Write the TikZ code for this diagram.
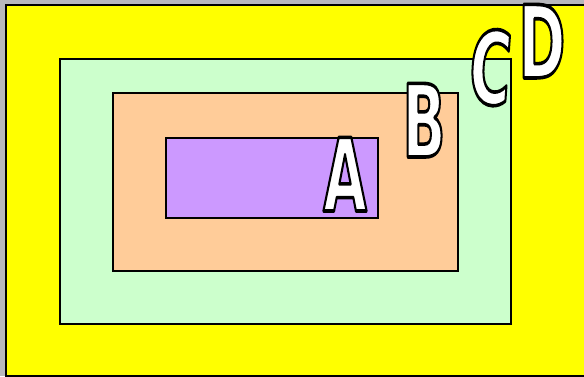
\documentclass[tikz,border=0pt]{standalone}
\usepackage{fontspec}
\setmainfont{Liberation Sans}
\newfontfamily\heavyfont{DejaVu Sans}
\definecolor{bggray}{RGB}{184,184,188}
\definecolor{pyellow}{RGB}{255,255,0}
\definecolor{pgreen}{RGB}{204,255,204}
\definecolor{porange}{RGB}{255,204,153}
\definecolor{ppurple}{RGB}{204,153,255}
\newcommand\letterbox[1]{{\color{white}\special{pdf:literal direct 2 Tr 3.6 w 1 j 0 G}\scalebox{0.56}[1]{#1}\special{pdf:literal direct 0 Tr 1 w 0 j}}}
\begin{document}
\begin{tikzpicture}[x=1pt,y=-1pt,
  box/.style={draw=black,line width=2pt,inner sep=0pt,anchor=north west},
  letter/.style={inner sep=0pt,anchor=base,font=\heavyfont\bfseries\fontsize{101}{101}\selectfont}]
\useasboundingbox (0,0) rectangle (584,376);
\fill[bggray] (0,0) rectangle (584,376);
\node[box,fill=pyellow,minimum width=600pt,minimum height=371pt] (d) at (5,4) {};
\node[box,fill=pgreen,minimum width=451pt,minimum height=265pt] (c) at (59,58) {};
\node[box,fill=porange,minimum width=345pt,minimum height=178pt] (b) at (112,92) {};
\node[box,fill=ppurple,minimum width=212pt,minimum height=80pt] (a) at (165,137) {};
\node[letter] (la) at (345,211) {\letterbox{A}};
\node[letter] (lb) at (424,157) {\letterbox{B}};
\node[letter,rotate=-4] (lc) at (488,104) {\letterbox{C}};
\node[letter] (ld) at (542,78) {\letterbox{D}};
\end{tikzpicture}
\end{document}
